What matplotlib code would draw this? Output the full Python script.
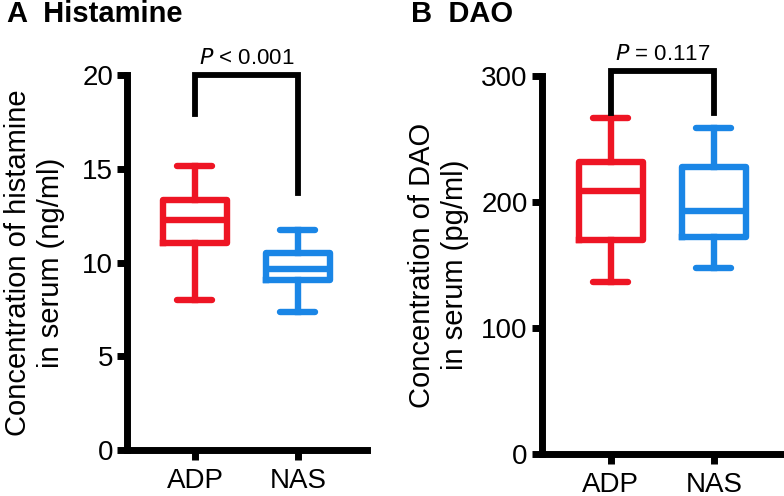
"""Histamine and DAO box plots, ADP vs NAS"""
import matplotlib
matplotlib.use('Agg')
import matplotlib.pyplot as plt

plt.rcParams['font.family'] = ['Liberation Sans', 'DejaVu Sans']

groups = ['ADP', 'NAS']
colors = ['#ee1524', '#1a86e6']

# five-number summaries: whisker low, q1, median, q3, whisker high
hist_adp = [8.0, 11.04, 12.27, 13.35, 15.15]
hist_nas = [7.36, 9.07, 9.65, 10.52, 11.73]
dao_adp = [136.5, 169.8, 208.7, 231.7, 266.7]
dao_nas = [147.8, 172.2, 192.7, 227.8, 258.7]

hist_ticks = [0, 5, 10, 15, 20]
dao_ticks = [0, 100, 200, 300]

# bracket legs (left bottom, right bottom, top) and p-value text
hist_bracket = [17.9, 13.7, 20.0]
dao_bracket = [271, 271, 304]
hist_p = r'$\it{P}$ < 0.001'
dao_p = r'$\it{P}$ = 0.117'

LW = 4.6


def stats_from(summary, label):
    lo, q1, med, q3, hi = summary
    return dict(whislo=lo, q1=q1, med=med, q3=q3, whishi=hi, fliers=[], label=label)


def draw_panel(ax, data, ticks, ylabel, bracket, ptext, xlim, labelpad):
    stats = [stats_from(d, g) for d, g in zip(data, groups)]
    bp = ax.bxp(stats, positions=[1, 2], widths=0.62, showfliers=False,
                patch_artist=False, capwidths=0.34)
    for i, c in enumerate(colors):
        bp['boxes'][i].set(color=c, linewidth=LW, solid_joinstyle='round')
        bp['medians'][i].set(color=c, linewidth=LW)
        for k in (2 * i, 2 * i + 1):
            bp['whiskers'][k].set(color=c, linewidth=LW)
            bp['caps'][k].set(color=c, linewidth=LW, solid_capstyle='round')

    ax.set_xlim(*xlim)
    ax.set_ylim(ticks[0], ticks[-1])
    ax.set_yticks(ticks)
    ax.set_xticks([1, 2])
    ax.set_xticklabels(groups)
    for s in ('top', 'right'):
        ax.spines[s].set_visible(False)
    for s in ('left', 'bottom'):
        ax.spines[s].set_linewidth(5)
    ax.tick_params(axis='both', width=5, length=7, labelsize=20, pad=3)
    ax.tick_params(axis='x', pad=6)
    ax.set_ylabel(ylabel, fontsize=21, linespacing=1.2, labelpad=labelpad)

    l, r, top = bracket
    ax.plot([1, 1, 2, 2], [l, top, top, r], color='black', linewidth=4.2,
            clip_on=False, solid_joinstyle='miter')
    ax.annotate(ptext, xy=(1.5, top), xytext=(0, 8), textcoords='offset points',
                ha='center', va='baseline', fontsize=16, annotation_clip=False)


fig = plt.figure(figsize=(7.84, 4.96), dpi=100)
ax1 = fig.add_axes([0.162, 0.0927, 0.306, 0.756])
ax2 = fig.add_axes([0.691, 0.0847, 0.309, 0.762])

draw_panel(ax1, [hist_adp, hist_nas], hist_ticks,
           'Concentration of histamine\nin serum (ng/ml)',
           hist_bracket, hist_p, (0.34, 2.67), 12.5)
draw_panel(ax2, [dao_adp, dao_nas], dao_ticks,
           'Concentration of DAO\nin serum (pg/ml)',
           dao_bracket, dao_p, (0.33, 2.68), 9)

fig.text(0.009, 0.972, 'A  Histamine', fontsize=21, fontweight='bold', va='center')
fig.text(0.524, 0.972, 'B  DAO', fontsize=21, fontweight='bold', va='center')

fig.savefig('out.png', dpi=100)
